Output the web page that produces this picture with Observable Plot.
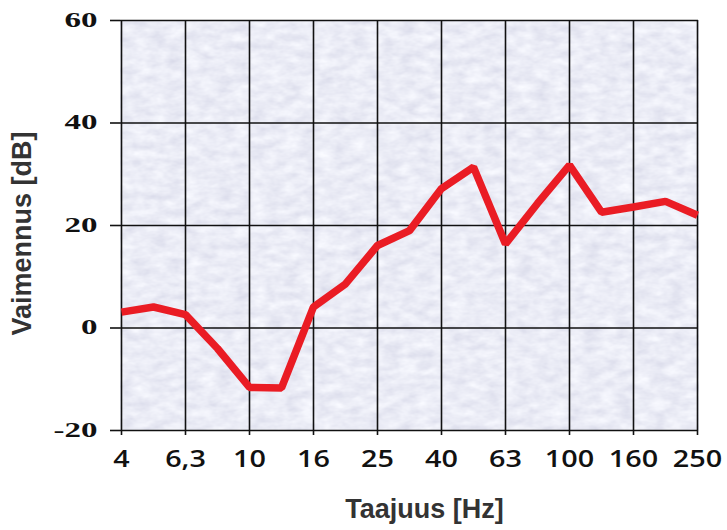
<!DOCTYPE html>
<html><head><meta charset="utf-8">
<script src="https://cdn.jsdelivr.net/npm/d3@7"></script>
<script src="https://cdn.jsdelivr.net/npm/@observablehq/plot@0.6"></script>
<style>body{margin:0;background:#fff}</style>
</head><body><div id="chart"></div>
<script>
// Third-octave band centre frequencies (Hz)
const bands = ["4","5","6,3","8","10","12,5","16","20","25","31,5","40","50","63","80","100","125","160","200","250"];
// Attenuation (dB) per band
const attenuation = [3.1, 4.1, 2.6, -4, -11.6, -11.7, 4.1, 8.6, 16.1, 19, 27.2, 31.4, 16.4, 24.3, 31.8, 22.6, 23.6, 24.7, 22];
const xTicks = ["4","6,3","10","16","25","40","63","100","160","250"];
const yTicks = [-20, 0, 20, 40, 60];
const xTitle = "Taajuus [Hz]";
const yTitle = "Vaimennus [dB]";

const data = bands.map((b, i) => ({band: b, db: attenuation[i]}));

const plot = Plot.plot({
  width: 727, height: 530,
  marginLeft: 120, marginRight: 29, marginTop: 20, marginBottom: 100,
  style: {background: "#fff", overflow: "visible"},
  x: {type: "point", domain: bands, padding: 0},
  y: {domain: [-20, 60]},
  marks: [
    Plot.frame({fill: "#d8daea", stroke: "none"}),
    Plot.gridX(xTicks, {stroke: "#111", strokeOpacity: 1, strokeWidth: 1.6}),
    Plot.gridY(yTicks, {stroke: "#111", strokeOpacity: 1, strokeWidth: 1.6}),
    Plot.axisX(xTicks, {tickSize: 5, tickPadding: 15, label: null, stroke: "#111", strokeWidth: 1.6,
      fill: "#111", fontFamily: "Open Sans", fontSize: 23, fontWeight: 600}),
    Plot.axisY(yTicks, {tickSize: 10, tickPadding: 13, label: null, stroke: "#111", strokeWidth: 1.6,
      fill: "#111", fontFamily: "Liberation Serif", fontSize: 20, fontWeight: "bold", tickFormat: d => String(d)}),
    Plot.line(data, {x: "band", y: "db", stroke: "#ea1c24", strokeWidth: 7.5,
      strokeLinejoin: "miter", strokeLinecap: "butt"}),
    Plot.text([xTitle], {frameAnchor: "bottom", dy: 87, dx: 15, text: d => d, textAnchor: "middle",
      fontFamily: "Liberation Sans", fontWeight: "bold", fontSize: 27, fill: "#333"}),
    Plot.text([yTitle], {frameAnchor: "left", dx: -98, dy: 8, rotate: -90, text: d => d, textAnchor: "middle",
      fontFamily: "Liberation Sans", fontWeight: "bold", fontSize: 27, fill: "#333"})
  ]
});

document.getElementById("chart").appendChild(plot);

// Texture filter for the plot background
const ns = "http://www.w3.org/2000/svg";
const defs = document.createElementNS(ns, "defs");
defs.innerHTML = `<filter id="tex" x="0" y="0" width="100%" height="100%">
  <feTurbulence type="fractalNoise" baseFrequency="0.06 0.12" numOctaves="3" seed="4" result="n"/>
  <feColorMatrix in="n" type="matrix" values="0.3 0 0 0 0.68  0.3 0 0 0 0.69  0.22 0 0 0 0.81  0 0 0 0 1"/>
</filter>`;
plot.insertBefore(defs, plot.firstChild);
const frameRect = plot.querySelector('[aria-label="frame"]');
if (frameRect) frameRect.setAttribute("filter", "url(#tex)");

// The reference's tick labels are horizontally stretched
function stretch(sel, k) {
  plot.querySelectorAll(sel).forEach(t => {
    const w = t.getComputedTextLength();
    t.setAttribute("textLength", (w * k).toFixed(1));
    t.setAttribute("lengthAdjust", "spacingAndGlyphs");
  });
}
stretch('[aria-label="x-axis tick label"] text', 1.25);
stretch('[aria-label="y-axis tick label"] text', 1.65);
</script>
</body></html>
